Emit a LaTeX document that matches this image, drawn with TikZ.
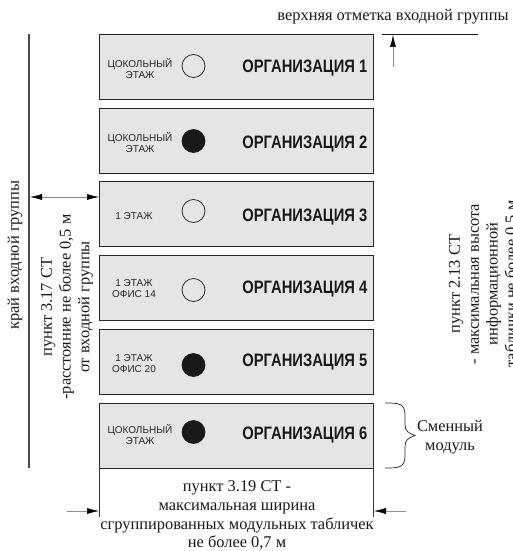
\documentclass[tikz,border=0pt]{standalone}
\usepackage{fontspec}
\setmainfont{Liberation Serif}
\newfontfamily\smallfont{Liberation Sans}
\newfontfamily\orgfont[FakeStretch=0.82,UprightFont=* Bold]{Liberation Sans}
\usetikzlibrary{arrows.meta}

\begin{document}
\begin{tikzpicture}[x=1pt,y=-1pt,every path/.style={>={Latex[length=12pt,width=6pt,black]}},
  panel/.style={draw=black!85,fill=black!10,line width=0.8pt,minimum width=274pt,minimum height=65pt,inner sep=0pt},
  note/.style={inner sep=0pt,align=center,font=\fontsize{16.4}{18.8}\selectfont,text=black!90},
  floor/.style={inner sep=0pt,align=center,font=\smallfont\fontsize{10}{11}\selectfont,text=black!85},
  org/.style={inner sep=0pt,anchor=east,font=\orgfont\fontsize{18}{18}\selectfont,text=black!90},
  lamp/.style={circle,draw=black!90,line width=0.7pt,minimum size=23pt,inner sep=0pt},
  lampon/.style={lamp,fill=black!90},
  dim/.style={draw=black!45,line width=0.5pt}]
\useasboundingbox (0,0) rectangle (513,551);
\node[panel]          (p1) at (236.5,66.5)  {};
\node[panel]          (p2) at (236.5,140.5) {};
\node[panel]          (p3) at (236.5,214)   {};
\node[panel]          (p4) at (236.5,288)   {};
\node[panel]          (p5) at (236.5,361.5) {};
\node[panel]          (p6) at (236.5,435.5) {};
\node[floor]          (f1) at (140,69)  {ЦОКОЛЬНЫЙ\\ЭТАЖ};
\node[floor]          (f2) at (140,143) {ЦОКОЛЬНЫЙ\\ЭТАЖ};
\node[floor]          (f3) at (134,216.5) {1 ЭТАЖ};
\node[floor]          (f4) at (134,289) {1 ЭТАЖ\\ОФИС 14};
\node[floor]          (f5) at (134,364) {1 ЭТАЖ\\ОФИС 20};
\node[floor]          (f6) at (140,435) {ЦОКОЛЬНЫЙ\\ЭТАЖ};
\node[lamp]           (l1) at (193.5,66)  {};
\node[lampon]         (l2) at (193.5,141) {};
\node[lamp]           (l3) at (193.5,211) {};
\node[lamp]           (l4) at (193.5,290) {};
\node[lampon]         (l5) at (193.5,365) {};
\node[lampon]         (l6) at (193.5,432) {};
\node[org]            (o1) at (367.5,68)  {ОРГАНИЗАЦИЯ 1};
\node[org]            (o2) at (367.5,144) {ОРГАНИЗАЦИЯ 2};
\node[org]            (o3) at (367.5,217) {ОРГАНИЗАЦИЯ 3};
\node[org]            (o4) at (367.5,289) {ОРГАНИЗАЦИЯ 4};
\node[org]            (o5) at (367.5,362) {ОРГАНИЗАЦИЯ 5};
\node[org]            (o6) at (367.5,435) {ОРГАНИЗАЦИЯ 6};
\node[note]           (top)   at (393,17)  {верхняя отметка входной группы};
\node[note,rotate=90] (edge)  at (15,255)  {край входной группы};
\node[note,rotate=90] (dist)  at (67,307)  {пункт 3.17 СТ\\-расстояние не более 0,5 м\\от входной группы};
\node[note,rotate=90] (high)  at (484,284) {пункт 2.13 СТ\\- максимальная высота\\информационной\\таблички не более 0,5 м};
\node[note]           (wide)  at (237,515.5) {пункт 3.19 СТ -\\максимальная ширина\\сгруппированных модульных табличек\\не более 0,7 м};
\node[note]           (swap)  at (450,437.5) {Сменный\\модуль};
\coordinate           (t0) at (382,34);
\coordinate           (t1) at (478,34);
\coordinate           (t2) at (393,67);
\coordinate           (t3) at (393,35);
\coordinate           (e0) at (29,34);
\coordinate           (e1) at (29,468);
\coordinate           (d0) at (30,197);
\coordinate           (d1) at (99,197);
\coordinate           (w0) at (99.5,468);
\coordinate           (w1) at (99.5,517);
\coordinate           (w2) at (373.5,468);
\coordinate           (w3) at (373.5,517);
\coordinate           (w4) at (67,511);
\coordinate           (w5) at (99,511);
\coordinate           (w6) at (406,511);
\coordinate           (w7) at (374,511);
\draw[line width=0.8pt,black!90]  (t0) -- (t1);
\draw[line width=1.3pt,black!70]  (e0) -- (e1);
\draw[line width=0.7pt,black!80]  (w0) -- (w1);
\draw[line width=0.7pt,black!80]  (w2) -- (w3);
\draw[dim,->]                     (t2) -- (t3);
\draw[dim,<->]                    (d0) -- (d1);
\draw[dim,->]                     (w4) -- (w5);
\draw[dim,->]                     (w6) -- (w7);
\draw[line width=0.7pt,black!85]  (385,403) .. controls (398,403) and (405,403) .. (405,415)
  -- (405,424) .. controls (405,431) and (408,433) .. (415,435.5)
  .. controls (408,438) and (405,440) .. (405,447) -- (405,456)
  .. controls (405,468) and (398,468) .. (385,468);
\end{tikzpicture}
\end{document}
